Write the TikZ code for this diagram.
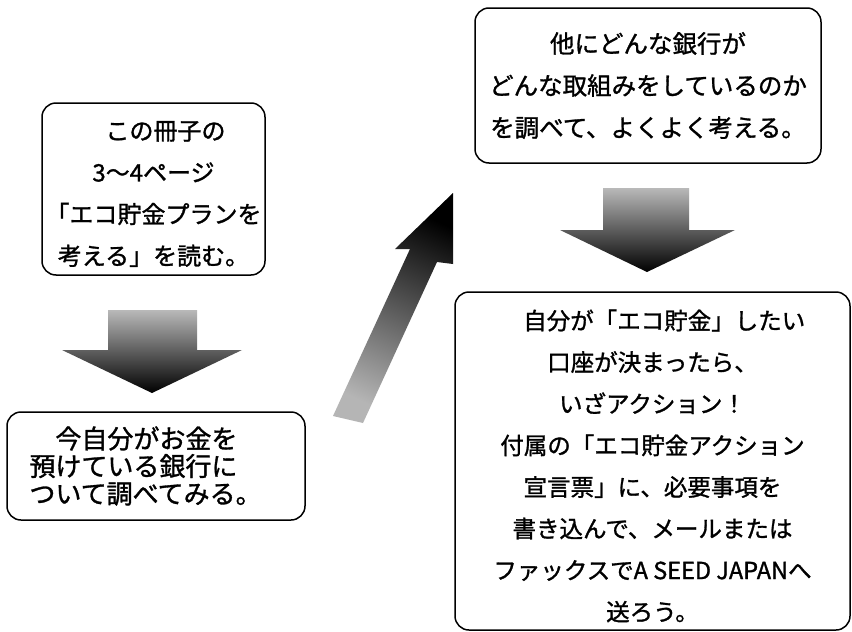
\documentclass[tikz,border=0pt]{standalone}
\usepackage{fontspec}
\setmainfont[FakeBold=1.2]{Noto Sans CJK JP}
\begin{document}
\begin{tikzpicture}[x=1pt,y=-1pt,
  box/.style={draw=black, line width=1.5pt, rounded corners=14pt, inner sep=0pt},
  txt/.style={inner sep=0pt, align=center},
  downarrow/.style={top color=gray!55, bottom color=black},
  slantarrow/.style={top color=black, bottom color=gray!58, shading angle=-25}]
\useasboundingbox (0,0) rectangle (852,632);
\fill[white] (0,0) rectangle (852,632);
% boxes
\node[box, minimum width=223pt, minimum height=172pt] (b1) at (153.5,189) {};
\node[txt, font=\fontsize{24}{41.7}\selectfont] (t1) at ([yshift=-5pt]b1.center)
  {　この冊子の\\3～4ページ\\「エコ貯金プランを\\考える」を読む。};
\node[box, minimum width=298pt, minimum height=108pt] (b2) at (156,466) {};
\node[txt, align=left, anchor=west, font=\fontsize{26}{27.5}\selectfont] (t2) at ([xshift=23pt]b2.west)
  {　今自分がお金を\\預けている銀行に\\ついて調べてみる。};
\node[box, minimum width=346pt, minimum height=155pt] (b3) at (648,85.5) {};
\node[txt, font=\fontsize{24.5}{42}\selectfont] (t3) at (b3.center)
  {他にどんな銀行が\\どんな取組みをしているのか\\を調べて、よくよく考える。};
\node[box, minimum width=395pt, minimum height=338pt] (b4) at (652.5,461) {};
\node[txt, font=\fontsize{23.5}{41.6}\selectfont] (t4) at ([yshift=-5pt]b4.center)
  {　自分が「エコ貯金」したい\\口座が決まったら、\\いざアクション！\\付属の「エコ貯金アクション\\宣言票」に、必要事項を\\書き込んで、メールまたは\\ファックスでA SEED JAPANへ\\送ろう。};
% block arrows
\shade[downarrow] (108,310) -- (197,310) -- (197,350) -- (242,350) -- (152,393) -- (62,350) -- (108,350) -- cycle;
\shade[downarrow] (603,188) -- (689,188) -- (689,230) -- (735,230) -- (647,272) -- (560,230) -- (603,230) -- cycle;
\shade[slantarrow] (453,193) -- (453,264) -- (437,262) -- (363,423) -- (333,416) -- (410,249) -- (395,249) -- cycle;
\end{tikzpicture}
\end{document}
